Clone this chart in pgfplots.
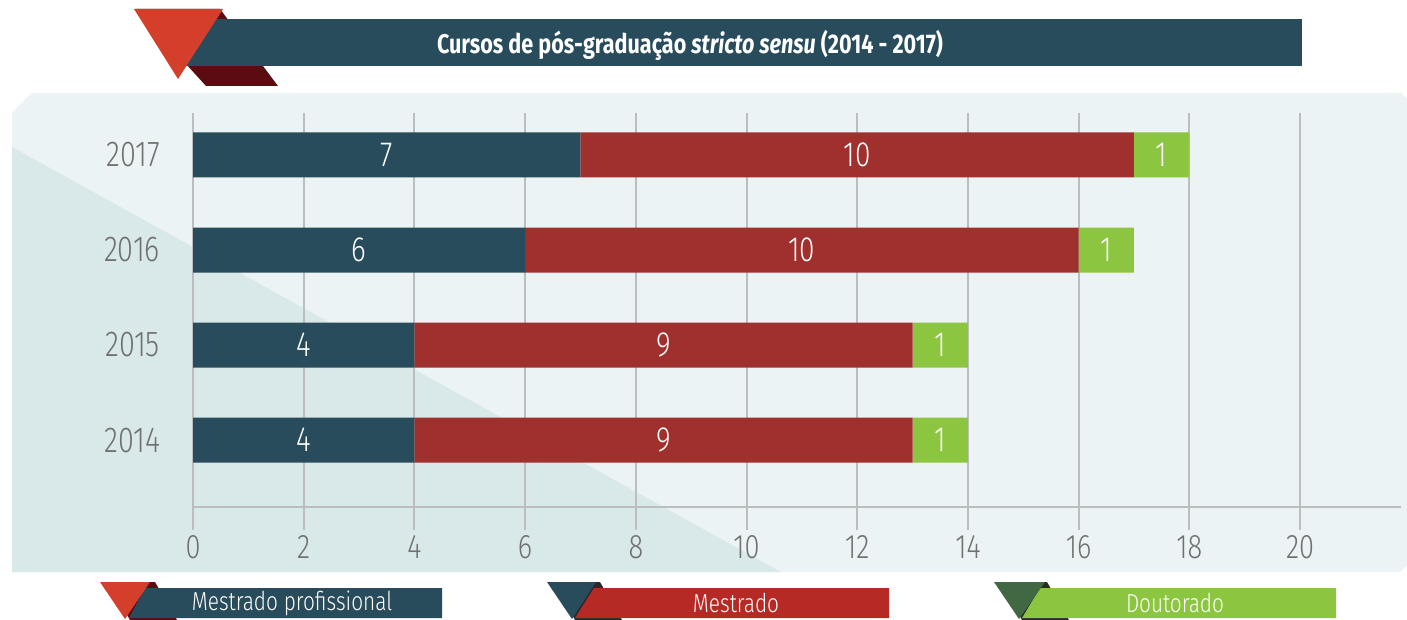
\documentclass[border=0pt]{standalone}
\usepackage{pgfplots}
\pgfplotsset{compat=1.18}
\usepackage{pgfplotstable}
\usepackage{graphicx}
\usepackage{fontspec}
\setmainfont{Fira Sans}[UprightFont=* Light, ItalicFont=* Light Italic, BoldFont=* Bold, BoldItalicFont=* Bold Italic]

\definecolor{ink}{HTML}{284C5B}
\definecolor{barred}{HTML}{A0302D}
\definecolor{legred}{HTML}{B52A25}
\definecolor{lgreen}{HTML}{8CC540}
\definecolor{dgreen}{HTML}{416842}
\definecolor{tri}{HTML}{D33F2B}
\definecolor{maroon}{HTML}{5A0C10}
\definecolor{panel}{HTML}{EBF3F5}
\definecolor{panelb}{HTML}{D9E9E9}
\definecolor{gridc}{HTML}{BBBDBF}
\definecolor{lab}{HTML}{707070}
\definecolor{shad}{HTML}{2A2A2A}

\newcommand{\cond}[1]{\scalebox{0.8}[1]{#1}}

% cursos por ano: mestrado profissional, mestrado, doutorado
\pgfplotstableread{
pos mp me dr
0 4 9 1
1 4 9 1
2 6 10 1
3 7 10 1
}\cursos

\begin{document}
\begin{tikzpicture}[x=0.5bp,y=0.5bp]
\path[use as bounding box, fill=white] (0,0) rectangle (1407,-620);
% painel de fundo
\fill[panel] (12,-113) -- (32,-93) -- (1401,-93) -- (1407,-99) -- (1407,-565) -- (1400,-572) -- (12,-572) -- cycle;
\fill[panelb] (12,-147) -- (781,-572) -- (12,-572) -- cycle;
% faixa do titulo
\fill[maroon] (136,-9) -- (220,-9) -- (278,-86) -- (206,-86) -- cycle;
\fill[ink] (185,-19) rectangle (1302,-66);
\fill[tri] (134,-9) -- (223,-9) -- (178,-79) -- cycle;
\node[white, font=\bfseries\fontsize{13.5bp}{15bp}\selectfont] at (690,-45)
  {\cond{Cursos de pós-graduação \textit{stricto sensu} (2014 - 2017)}};

\begin{axis}[
  at={(96.5bp,-253.5bp)}, anchor=south west,
  scale only axis, width=553.5bp, height=197bp,
  xmin=0, xmax=20, ymin=-0.705, ymax=3.442,
  xbar stacked, bar width=22.5bp,
  clip=false,
  axis line style={draw=none},
  xtick={0,2,...,20}, xtick pos=left,
  xticklabel={\cond{\pgfmathprintnumber[assume math mode=true]{\tick}}},
  xmajorgrids, major grid style={gridc, line width=1bp},
  tick align=outside, major tick length=11.5bp,
  xtick style={gridc, line width=1bp},
  ytick={0,1,2,3}, ytick style={draw=none},
  yticklabels={\cond{2014},\cond{2015},\cond{2016},\cond{2017}},
  x tick label style={lab, font=\fontsize{17bp}{19bp}\selectfont, yshift=1bp},
  y tick label style={lab, font=\fontsize{18bp}{20bp}\selectfont, xshift=-1.5bp},
  point meta=x,
  visualization depends on={rawx \as \rawx},
  nodes near coords={\cond{\pgfmathprintnumber[assume math mode=true]{\rawx}}},
  every node near coord/.append style={white, anchor=center, font=\fontsize{17.5bp}{19bp}\selectfont},
]
\addplot[fill=ink, draw=none] table[x=mp, y=pos] {\cursos};
\addplot[fill=barred, draw=none] table[x=me, y=pos] {\cursos};
\addplot[fill=lgreen, draw=none] table[x=dr, y=pos] {\cursos};
\end{axis}
\draw[gridc, line width=1bp] (193,-507) -- (1401,-507);

% legenda
\fill[maroon] (108,-582) -- (155,-582) -- (177,-620) -- (130,-620) -- cycle;
\fill[ink] (145,-588) -- (442,-588) -- (442,-618) -- (129,-618) -- cycle;
\fill[tri] (100,-582) -- (150,-582) -- (125,-619) -- cycle;
\node[white, font=\fontsize{13bp}{15bp}\selectfont] at (292,-603) {\cond{Mestrado profissional}};

\fill[shad] (553,-582) -- (600,-582) -- (622,-620) -- (575,-620) -- cycle;
\fill[legred] (594,-588) -- (889,-588) -- (889,-618) -- (575,-618) -- cycle;
\fill[ink] (547,-582) -- (596,-582) -- (572,-619) -- cycle;
\node[white, font=\fontsize{13bp}{15bp}\selectfont] at (736,-603) {\cond{Mestrado}};

\fill[shad] (1000,-582) -- (1047,-582) -- (1069,-620) -- (1022,-620) -- cycle;
\fill[lgreen] (1040,-588) -- (1336,-588) -- (1336,-618) -- (1022,-618) -- cycle;
\fill[dgreen] (994,-582) -- (1045,-582) -- (1019,-619) -- cycle;
\node[white, font=\fontsize{13bp}{15bp}\selectfont] at (1175,-603) {\cond{Doutorado}};
\end{tikzpicture}
\end{document}
